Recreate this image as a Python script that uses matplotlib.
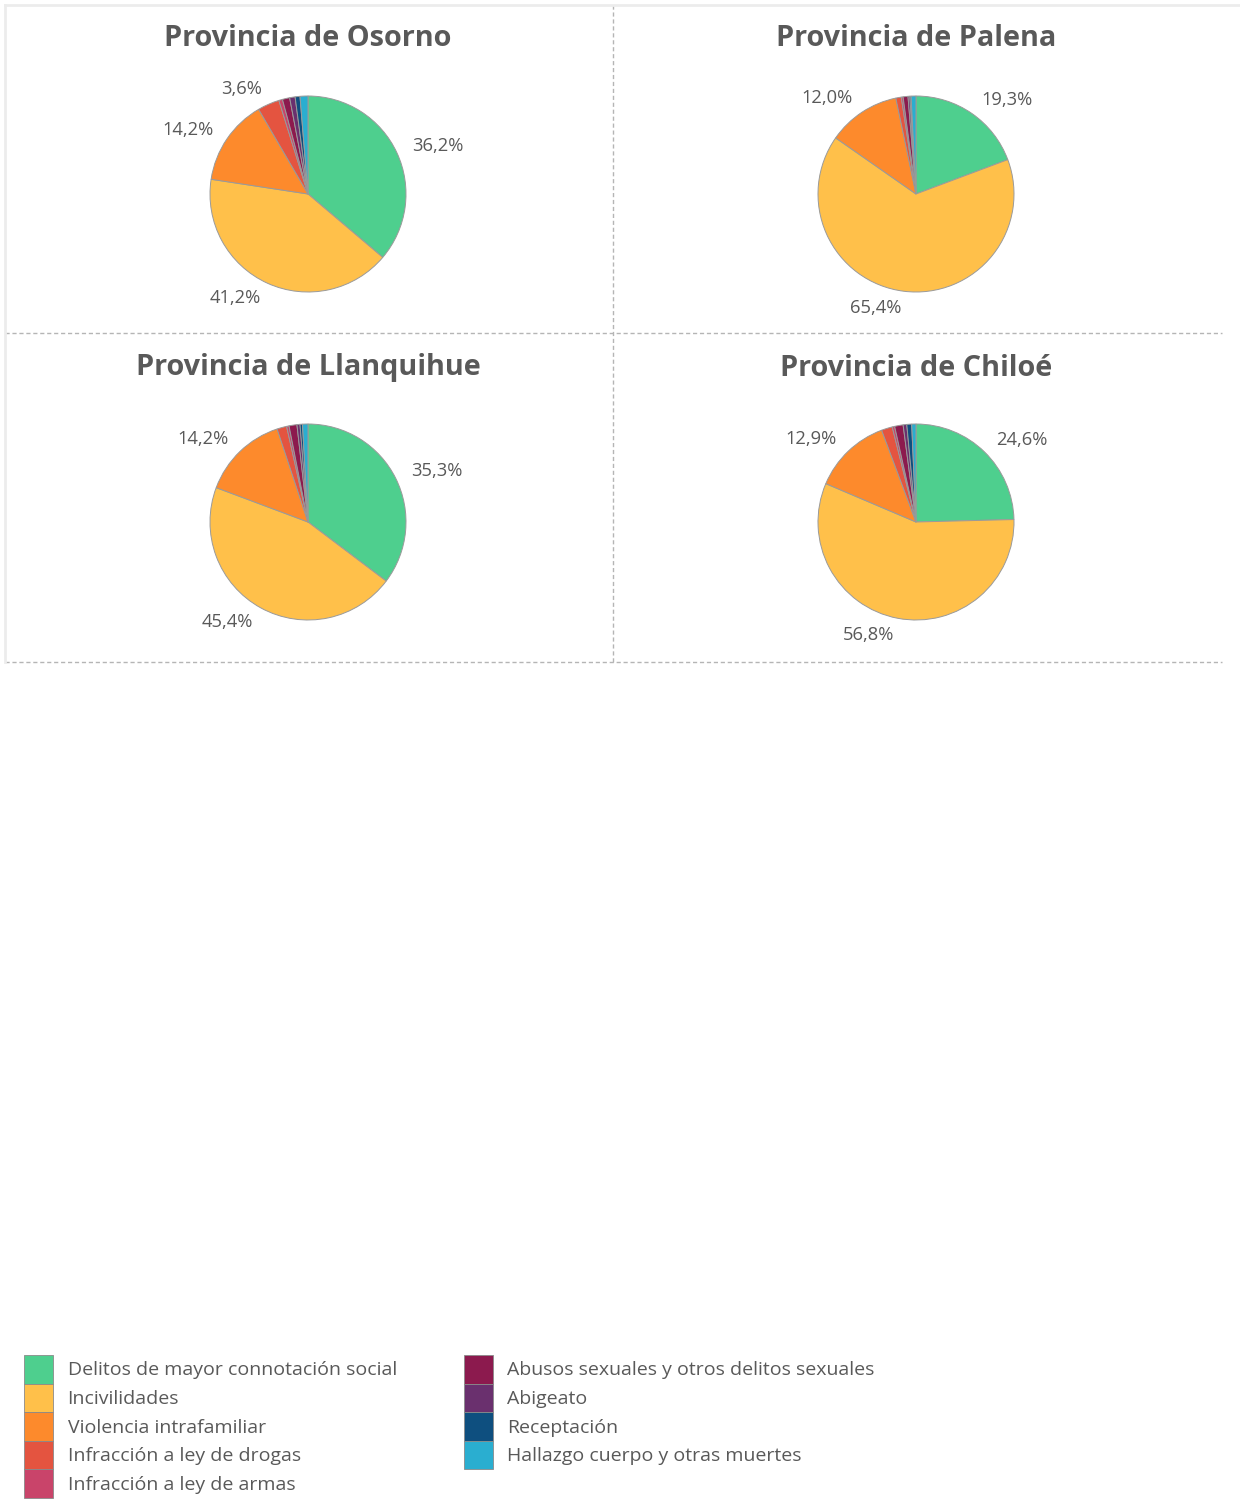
import matplotlib
matplotlib.use('Agg')
import matplotlib.pyplot as plt
from matplotlib.patches import Patch
from matplotlib.lines import Line2D

plt.rcParams['font.family'] = ['Open Sans', 'DejaVu Sans']

# ---------------- data ----------------
categorias = ['Delitos de mayor connotación social', 'Incivilidades', 'Violencia intrafamiliar',
              'Infracción a ley de drogas', 'Infracción a ley de armas',
              'Abusos sexuales y otros delitos sexuales', 'Abigeato', 'Receptación',
              'Hallazgo cuerpo y otras muertes']
colores = ['#4ecf8e', '#ffc04a', '#fd8a2c', '#e45440', '#c9446a',
           '#8c1a4e', '#6a306e', '#0e4f7f', '#2aaed0']

provincias = ['Provincia de Osorno', 'Provincia de Palena', 'Provincia de Llanquihue', 'Provincia de Chiloé']
osorno = [36.2, 41.2, 14.2, 3.6, 0.6, 1.2, 0.9, 0.8, 1.3]
palena = [19.3, 65.4, 12.0, 0.9, 0.3, 0.8, 0.3, 0.2, 0.8]
llanquihue = [35.3, 45.4, 14.2, 1.6, 0.4, 1.3, 0.5, 0.4, 0.9]
chiloe = [24.6, 56.8, 12.9, 1.8, 0.4, 1.4, 0.6, 0.8, 0.7]
valores = [osorno, palena, llanquihue, chiloe]

W, H = 1240, 1505
fig = plt.figure(figsize=(W / 100, H / 100), dpi=100)
gris = '#595959'

# pie centers in pixels (layout only)
centros = [(308, 194), (916, 194), (308, 522), (916, 522)]
titulo_y = [39, 39, 368, 368]
r = 98
lado = 2.5 * r

for nombre, vals, (cx, cy), ty in zip(provincias, valores, centros, titulo_y):
    ax = fig.add_axes([(cx - lado / 2) / W, 1 - (cy + lado / 2) / H, lado / W, lado / H])
    etiquetas = [f'{v:.1f}%'.replace('.', ',') if v >= 3 else '' for v in vals]
    wedges, textos = ax.pie(vals, colors=colores, startangle=90, counterclock=False,
                            labels=etiquetas, labeldistance=1.17,
                            wedgeprops=dict(edgecolor='#9a9a9a', linewidth=0.7),
                            textprops=dict(color=gris, fontsize=13.2))
    ax.set_aspect('equal')
    fig.text(cx / W, 1 - ty / H, nombre, ha='center', va='center',
             fontsize=20.8, fontweight='bold', color=gris)

# grid lines
def linea(x0, y0, x1, y1, **kw):
    fig.add_artist(Line2D([x0 / W, x1 / W], [1 - y0 / H, 1 - y1 / H], transform=fig.transFigure, **kw))

dash = dict(color='#b5b5b5', linewidth=1.0, linestyle=(0, (3, 2)))
linea(613, 5, 613, 662, **dash)
linea(5, 333, 1222, 333, **dash)
linea(5, 662, 1222, 662, **dash)
linea(5, 5, 1240, 5, color='#ececec', linewidth=2)
linea(5, 5, 5, 662, color='#ececec', linewidth=2)

# legend
handles = [Patch(facecolor=c, edgecolor='#8a8a8a', linewidth=0.6) for c in colores]
fs = 14
leg = fig.legend(handles, categorias, ncol=2, loc='upper left',
                 bbox_to_anchor=(24 / W, 1 - 1355 / H), frameon=False,
                 fontsize=fs, handlelength=1.49, handleheight=1.88, labelspacing=0,
                 handletextpad=0.75, columnspacing=3.45, borderpad=0, borderaxespad=0)
for t in leg.get_texts():
    t.set_color(gris)

fig.savefig('out.png', dpi=100)
